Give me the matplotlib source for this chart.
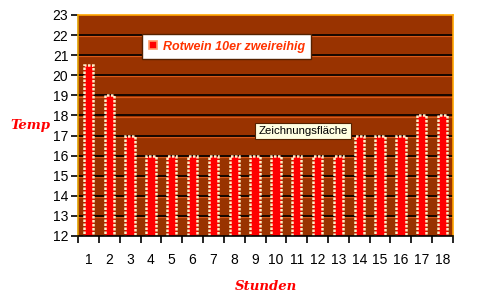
import numpy as np
import matplotlib.pyplot as plt
import matplotlib.transforms as mtransforms
from matplotlib.lines import Line2D

## Daten
stunden = np.arange(1, 19)
temp = [20.5, 19, 17, 16, 16, 16, 16, 16, 16, 16, 16, 16, 16, 17, 17, 17, 18, 18]
serie = 'Rotwein 10er zweireihig'

plt.rcParams['font.family'] = ['Liberation Sans', 'DejaVu Sans']

fig = plt.figure(figsize=(5, 3.06), dpi=100)
ax = fig.add_axes([0.156, 0.229, 0.75, 0.722])
ax.set_facecolor('#993300')

# Gitterlinien: schwarz mit hellem Schatten darunter
schatten = mtransforms.offset_copy(ax.get_yaxis_transform(), fig=fig, x=0, y=-1.2, units='dots')
for y in range(13, 23):
    ax.plot([0, 1], [y, y], color='#d85a1a', lw=0.9, transform=schatten, zorder=1)
    ax.axhline(y, color='black', lw=1.2, zorder=1.5)

ax.bar(stunden, temp, width=0.45, bottom=0, color='#ff0000',
       edgecolor='#fff0c8', linewidth=1.8, linestyle=(0, (1, 0.6)), zorder=2)

ax.set_xlim(0.5, 18.5)
ax.set_ylim(12, 23)
ax.set_yticks(range(12, 24))
ax.set_xticks(np.arange(0.5, 19, 1))
ax.set_xticklabels([])
ax.set_xticks(stunden, minor=True)
ax.set_xticklabels([str(s) for s in stunden], minor=True)
ax.tick_params(axis='x', which='major', direction='out', length=5, width=1.2, color='black')
ax.tick_params(axis='x', which='minor', length=0, pad=12, labelsize=10)
ax.tick_params(axis='y', direction='out', length=5, width=1.2, labelsize=10, pad=2)

for side in ['top', 'right']:
    ax.spines[side].set_color('#ffa500')
    ax.spines[side].set_linestyle((0, (1, 1)))
    ax.spines[side].set_linewidth(1.2)
ax.spines['left'].set_color('#e0a000')
ax.spines['left'].set_linewidth(1.2)
ax.spines['bottom'].set_color('black')
ax.spines['bottom'].set_linewidth(1.2)

# Achsenbeschriftungen
ax.set_ylabel('Temp', rotation=0, color='red', fontsize=9.5, fontweight='bold',
              fontstyle='italic', family='DejaVu Serif', labelpad=16, va='center')
ax.set_xlabel('Stunden', color='red', fontsize=9.5, fontweight='bold',
              fontstyle='italic', family='DejaVu Serif', labelpad=10)

# Legende
marker = Line2D([], [], marker='s', color='none', markerfacecolor='#ff0000',
                markeredgecolor='#ff9966', markersize=6, markeredgewidth=1.2)
leg = ax.legend([marker], [serie], loc='upper left', bbox_to_anchor=(0.171, 0.912),
                frameon=True, fancybox=False, framealpha=1, borderpad=0.5,
                handlelength=0.8, handletextpad=0.35, borderaxespad=0,
                prop={'style': 'italic', 'weight': 'bold', 'size': 9})
leg.get_frame().set_facecolor('white')
leg.get_frame().set_edgecolor('#552200')
leg.get_texts()[0].set_color('#ff3300')

# Tooltip
ax.text(0.6, 0.475, 'Zeichnungsfläche', transform=ax.transAxes, fontsize=8.2,
        ha='center', va='center', color='black', zorder=5,
        bbox=dict(boxstyle='square,pad=0.3', facecolor='#ffffe1', edgecolor='#552200', lw=0.8))

fig.savefig('out.png', dpi=100)
